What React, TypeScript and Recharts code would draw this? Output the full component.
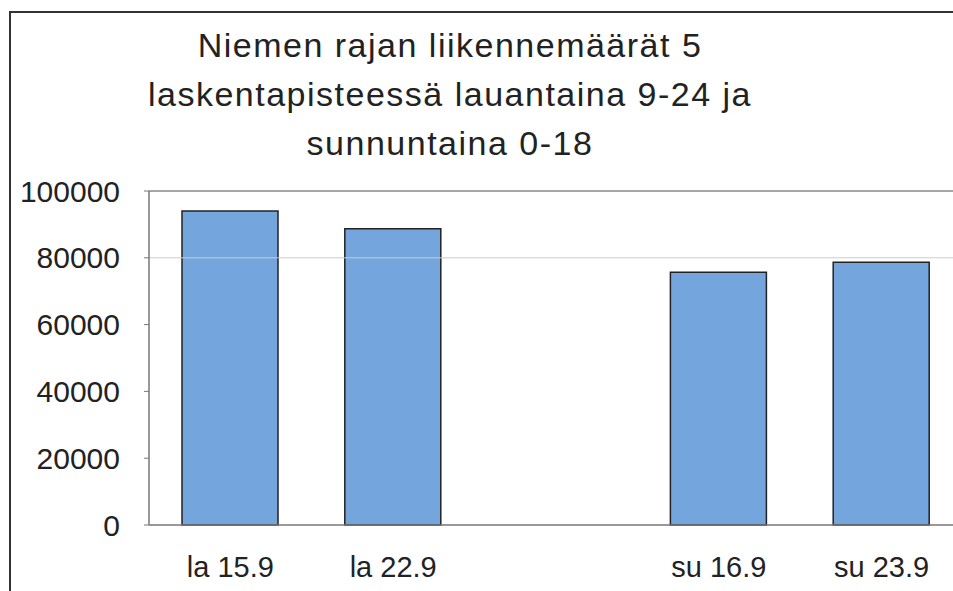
import { Bar, BarChart, ReferenceLine, XAxis, YAxis } from "recharts";

const CATEGORIES = ["la 15.9", "la 22.9", "", "su 16.9", "su 23.9"];
const VOLUMES: (number | null)[] = [94000, 88700, null, 75700, 78700];
const Y_TICKS = [0, 20000, 40000, 60000, 80000, 100000];
const TITLE_LINES = [
  "Niemen rajan liikennemäärät 5",
  "laskentapisteessä lauantaina 9-24 ja",
  "sunnuntaina 0-18",
];

const data = CATEGORIES.map((name, i) => ({ name, value: VOLUMES[i] }));
const font = "'Liberation Sans', Arial, sans-serif";

export default function App() {
  return (
    <div
      style={{
        position: "fixed",
        left: 8,
        top: 8,
        width: 945,
        height: 583,
        overflow: "hidden",
        background: "#fff",
        fontFamily: font,
      }}
    >
      <style>{"html, body { overflow: hidden; }"}</style>
      <div
        style={{
          position: "absolute",
          left: 1,
          top: 3,
          width: 1000,
          height: 700,
          borderLeft: "2px solid #333",
          borderTop: "2px solid #333",
        }}
      />
      <div
        style={{
          position: "absolute",
          left: 0,
          top: 13,
          width: 884,
          textAlign: "center",
          fontSize: 34,
          lineHeight: "49px",
          letterSpacing: 1.5,
          color: "#222",
        }}
      >
        {TITLE_LINES.map((l) => (
          <div key={l}>{l}</div>
        ))}
      </div>
      <div style={{ position: "absolute", left: 0, top: 0 }}>
        <BarChart
          width={1000}
          height={600}
          data={data}
          margin={{ top: 183, right: 45, left: 0, bottom: 0 }}
        >
          <ReferenceLine y={100000} stroke="#888" strokeWidth={1.5} />
          <ReferenceLine y={80000} stroke="#ccc" strokeWidth={1} />
          <XAxis
            xAxisId="ticks"
            type="number"
            domain={[0, 5]}
            ticks={[0, 1, 2, 3, 4, 5]}
            height={0}
            axisLine={false}
            tickSize={6}
            tickLine={{ stroke: "#777" }}
            tickFormatter={() => ""}
          />
          <XAxis
            xAxisId="cat"
            dataKey="name"
            height={83}
            interval={0}
            tickLine={false}
            axisLine={{ stroke: "#777", strokeWidth: 1.5 }}
            tickMargin={25}
            tick={{ fontSize: 29, fill: "#222", fontFamily: font }}
          />
          <YAxis
            width={141}
            domain={[0, 100000]}
            ticks={Y_TICKS}
            interval={0}
            axisLine={{ stroke: "#777", strokeWidth: 1.5 }}
            tickLine={{ stroke: "#777" }}
            tickSize={5}
            tickMargin={24}
            tick={{ fontSize: 30, fill: "#222", fontFamily: font }}
          />
          <Bar
            xAxisId="cat"
            dataKey="value"
            barSize={96}
            fill="#74a5dc"
            stroke="#222"
            strokeWidth={1.5}
            isAnimationActive={false}
          />
        </BarChart>
      </div>
    </div>
  );
}
